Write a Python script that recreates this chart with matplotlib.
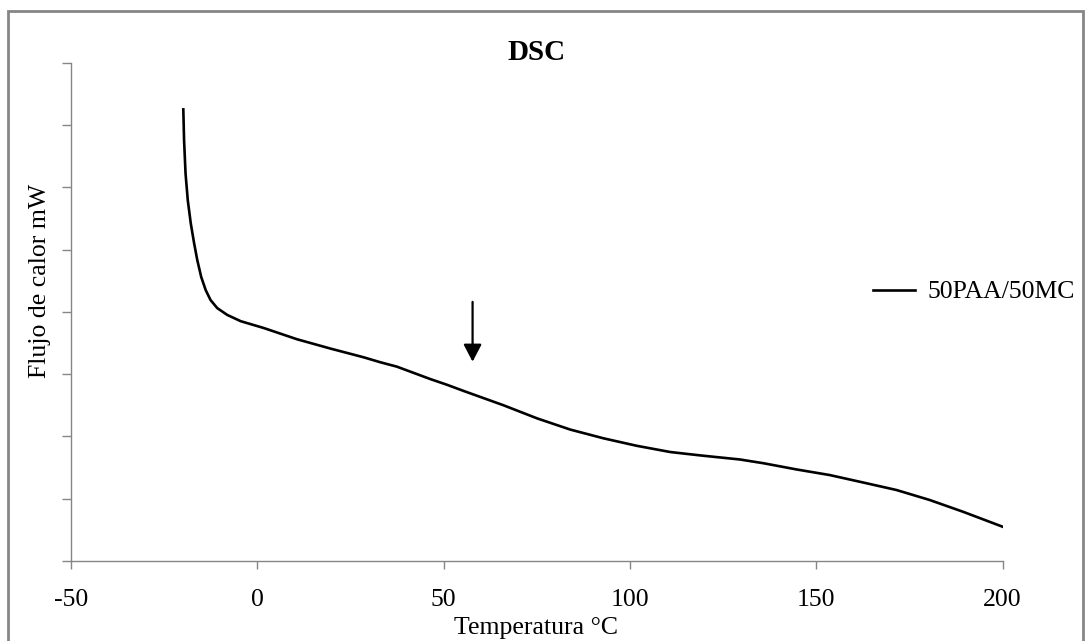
import matplotlib.pyplot as plt
from matplotlib.patches import Rectangle

plt.rcParams['font.family'] = ['Liberation Serif', 'DejaVu Serif']

temp = [-19.8, -19.6, -19.2, -18.6, -17.8, -16.9, -16.05, -15.0, -13.8,
        -12.5, -10.7, -8.0, -4.4, 1.8, 10.7, 19.7, 28.6, 33.1, 37.5, 42.0,
        46.5, 50.9, 55.4, 66.1, 75.1, 84.0, 92.9, 101.8, 106.3, 110.8,
        115.2, 119.7, 129.5, 135.8, 144.7, 153.6, 162.6, 171.5, 180.4,
        189.4, 200.0]
flujo = [7.25, 6.76, 6.22, 5.79, 5.42, 5.10, 4.83, 4.56, 4.35,
         4.19, 4.06, 3.95, 3.85, 3.74, 3.56, 3.41, 3.27, 3.19, 3.12, 3.02,
         2.92, 2.83, 2.73, 2.50, 2.29, 2.11, 1.97, 1.85, 1.80, 1.75,
         1.72, 1.69, 1.63, 1.57, 1.47, 1.38, 1.26, 1.14, 0.98,
         0.79, 0.55]
serie = '50PAA/50MC'

# flecha que marca la transicion
flecha_x = 57.8
flecha_y0 = 4.16
flecha_y1 = 3.20

xticks = [-50, 0, 50, 100, 150, 200]

fig = plt.figure(figsize=(10.85, 6.41), dpi=100)
ax = fig.add_axes([0.0652, 0.1248, 0.9241 - 0.0652, 0.9022 - 0.1248])

gris = '#868686'
ax.plot(temp, flujo, color='black', lw=1.9, label=serie,
        solid_joinstyle='round')
ax.annotate('', xy=(flecha_x, flecha_y1), xytext=(flecha_x, flecha_y0),
            arrowprops=dict(arrowstyle='-|>,head_length=1.05,head_width=0.55',
                            color='black', lw=1.6, shrinkA=0, shrinkB=0))

ax.set_xlim(-50, 200)
ax.set_ylim(0, 8)
ax.set_xticks(xticks)
ax.set_xticklabels([str(t) for t in xticks])
ax.set_yticks(range(0, 9))
ax.set_yticklabels([])
ax.tick_params(axis='both', direction='out', length=6, width=1, color=gris,
               labelsize=18.5, pad=14)
ax.tick_params(axis='y', length=6.5)
for s in ['top', 'right']:
    ax.spines[s].set_visible(False)
for s in ['left', 'bottom']:
    ax.spines[s].set_color(gris)
    ax.spines[s].set_linewidth(1)

fig.text(536 / 1085, 1 - 52 / 641, 'DSC', ha='center', va='center',
         fontsize=21, fontweight='bold')
fig.text(536 / 1085, 1 - 628 / 641, 'Temperatura °C', ha='center',
         va='center', fontsize=18.5)
fig.text(40 / 1085, 1 - 281 / 641, 'Flujo de calor mW', ha='center',
         va='center', rotation=90, fontsize=18.5)

ax.legend(loc='center left', bbox_to_anchor=(873 / 1085, 1 - 292 / 641),
          bbox_transform=fig.transFigure, frameon=False, fontsize=18.5,
          handlelength=1.63, handletextpad=0.5, borderpad=0,
          borderaxespad=0)

# marco del grafico
fig.patches.append(Rectangle((8 / 1085, -0.05), 1075 / 1085, 1.05 - 11 / 641,
                             transform=fig.transFigure, fill=False,
                             edgecolor=gris, lw=2))

fig.savefig('out.png', dpi=100)
